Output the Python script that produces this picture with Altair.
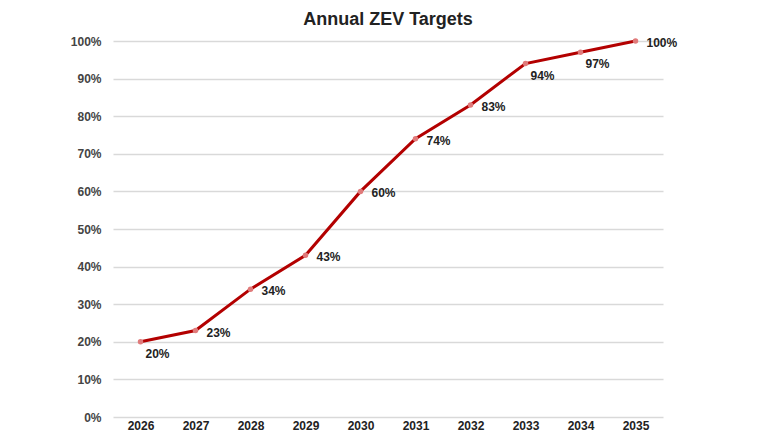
import altair as alt
import pandas as pd

years = ["2026", "2027", "2028", "2029", "2030", "2031", "2032", "2033", "2034", "2035"]
targets = [0.20, 0.23, 0.34, 0.43, 0.60, 0.74, 0.83, 0.94, 0.97, 1.00]
y_ticks = [0, 0.1, 0.2, 0.3, 0.4, 0.5, 0.6, 0.7, 0.8, 0.9, 1.0]
below_label_years = ["2026", "2033", "2034"]

df = pd.DataFrame({"year": years, "target": targets})

FONT = "Liberation Sans"

x = alt.X("year:O", sort=years, title=None,
          scale=alt.Scale(paddingInner=0, paddingOuter=0.5),
          axis=alt.Axis(labelAngle=0, labelFontSize=12, labelFontWeight="bold",
                        labelColor="#222", labelPadding=3, ticks=False, domain=False,
                        grid=False, labelFont=FONT))
y = alt.Y("target:Q", title=None,
          scale=alt.Scale(domain=[0, 1], nice=False),
          axis=alt.Axis(values=y_ticks, format=".0%", labelFontSize=12,
                        labelFontWeight="bold", labelColor="#444", labelPadding=12,
                        ticks=False, domain=False, gridColor="#d9d9d9", gridWidth=1.5,
                        labelFont=FONT))

base = alt.Chart(df).encode(x=x, y=y)

line = base.mark_line(color="#b30000", strokeWidth=3)
points = base.mark_circle(size=30, color="#e07a7a", opacity=1)

labels_right = base.transform_filter(
    ~alt.FieldOneOfPredicate(field="year", oneOf=below_label_years)
).mark_text(align="left", baseline="middle", dx=11, dy=2, fontSize=12,
            fontWeight="bold", color="#222", font=FONT
).encode(text=alt.Text("target:Q", format=".0%"))

labels_below = base.transform_filter(
    alt.FieldOneOfPredicate(field="year", oneOf=below_label_years)
).mark_text(align="left", baseline="middle", dx=5, dy=12, fontSize=12,
            fontWeight="bold", color="#222", font=FONT
).encode(text=alt.Text("target:Q", format=".0%"))

chart = alt.layer(line, points, labels_right, labels_below).properties(
    width=550, height=376,
    title=alt.TitleParams("Annual ZEV Targets", fontSize=18, fontWeight="bold",
                          color="#222", font=FONT, anchor="middle", offset=6),
    autosize=alt.AutoSizeParams(type="none"),
    padding={"left": 105, "top": 33, "right": 111, "bottom": 15},
).configure_view(stroke=None)

chart.save("out.html", embed_options={"renderer": "svg", "actions": False})
